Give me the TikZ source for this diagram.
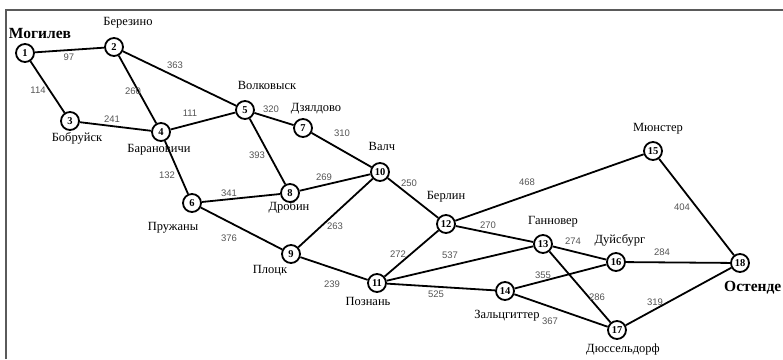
\documentclass[tikz,border=0pt]{standalone}
\usepackage{fontspec}
\setmainfont{Liberation Serif}
\newfontfamily\wfont{Liberation Sans}
\definecolor{wgray}{RGB}{85,85,85}
\definecolor{fgray}{RGB}{90,90,90}
\begin{document}
\begin{tikzpicture}[x=1pt,y=-1pt,
  vtx/.style={circle,draw,line width=1.8pt,minimum size=18pt,inner sep=0pt,fill=white,font=\fontsize{10.5}{10.5}\selectfont\bfseries},
  city/.style={font=\fontsize{12.5}{12.5}\selectfont,inner sep=0pt},
  bigcity/.style={font=\fontsize{15.5}{15.5}\selectfont\bfseries,inner sep=0pt},
  wt/.style={font=\wfont\fontsize{9.5}{9.5}\selectfont,text=wgray,inner sep=0pt},
  edge/.style={line width=1.8pt}]
\useasboundingbox (0,0) rectangle (783,359);
\draw[fgray,line width=1.3pt] (6,359) -- (6,10) -- (783,10);
% vertices
\node[vtx] (n1) at (25,53) {1};
\node[vtx] (n2) at (114,47) {2};
\node[vtx] (n3) at (70,121) {3};
\node[vtx] (n4) at (161,132) {4};
\node[vtx] (n5) at (245,110) {5};
\node[vtx] (n6) at (192,203) {6};
\node[vtx] (n7) at (303,128) {7};
\node[vtx] (n8) at (290,193) {8};
\node[vtx] (n9) at (291,254) {9};
\node[vtx] (n10) at (380,172) {10};
\node[vtx] (n11) at (377,283) {11};
\node[vtx] (n12) at (446,224) {12};
\node[vtx] (n13) at (543,244) {13};
\node[vtx] (n14) at (505,291) {14};
\node[vtx] (n15) at (653,151) {15};
\node[vtx] (n16) at (616,262) {16};
\node[vtx] (n17) at (617,330) {17};
\node[vtx] (n18) at (740,263) {18};
% edges
\foreach \a/\b in {1/2,1/3,2/5,2/4,3/4,4/5,4/6,5/7,5/8,7/10,6/8,8/10,6/9,9/10,9/11,10/12,11/12,11/13,11/14,12/13,12/15,13/16,13/17,14/16,14/17,15/18,16/18,17/18}
  \draw[edge] (n\a) -- (n\b);
% city labels
\node[bigcity] (c1) at (40,33) {Могилев};
\node[city] (c2) at (128,23) {Березино};
\node[city] (c3) at (77,138) {Бобруйск};
\node[city] (c4) at (159,150) {Барановичи};
\node[city] (c5) at (267,85) {Волковыск};
\node[city] (c7) at (316,109) {Дзялдово};
\node[city] (c10) at (382,146) {Валч};
\node[city] (c8) at (289,207) {Дробин};
\node[city] (c6) at (173,228) {Пружаны};
\node[city] (c9) at (270,271) {Плоцк};
\node[city] (c11) at (368,301) {Познань};
\node[city] (c12) at (446,197) {Берлин};
\node[city] (c13) at (553,222) {Ганновер};
\node[city] (c15) at (658,129) {Мюнстер};
\node[city] (c16) at (620,240) {Дуйсбург};
\node[bigcity,anchor=west] (c18) at (724,288) {Остенде};
\node[city] (c14) at (507,316) {Зальцгиттер};
\node[city] (c17) at (623,349) {Дюссельдорф};
% weights
\node[wt] (w1) at (69,57) {97};
\node[wt] (w2) at (38,90) {114};
\node[wt] (w3) at (175,65) {363};
\node[wt] (w4) at (133,91) {260};
\node[wt] (w5) at (112,119) {241};
\node[wt] (w6) at (190,113) {111};
\node[wt] (w7) at (271,109) {320};
\node[wt] (w8) at (342,133) {310};
\node[wt] (w9) at (257,155) {393};
\node[wt] (w10) at (324,177) {269};
\node[wt] (w11) at (229,193) {341};
\node[wt] (w12) at (409,183) {250};
\node[wt] (w13) at (167,175) {132};
\node[wt] (w14) at (335,226) {263};
\node[wt] (w15) at (229,238) {376};
\node[wt] (w16) at (332,284) {239};
\node[wt] (w17) at (398,254) {272};
\node[wt] (w18) at (488,225) {270};
\node[wt] (w19) at (527,182) {468};
\node[wt] (w20) at (450,255) {537};
\node[wt] (w21) at (573,241) {274};
\node[wt] (w22) at (682,207) {404};
\node[wt] (w23) at (662,252) {284};
\node[wt] (w24) at (543,275) {355};
\node[wt] (w25) at (436,294) {525};
\node[wt] (w26) at (597,297) {286};
\node[wt] (w27) at (550,321) {367};
\node[wt] (w28) at (655,302) {319};
\end{tikzpicture}
\end{document}
